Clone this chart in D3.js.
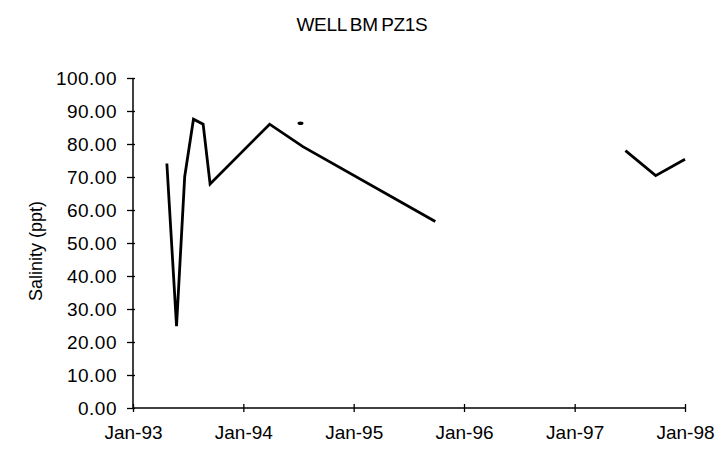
<!DOCTYPE html>
<html>
<head>
<meta charset="utf-8">
<script src="https://cdn.jsdelivr.net/npm/d3@7"></script>
<style>
  body { margin: 0; background: #fff; }
  text { font-family: "Liberation Sans", Arial, sans-serif; fill: #000; }
</style>
</head>
<body>
<svg id="chart" width="724" height="452"></svg>
<script>
// ---- data ----
const title = "WELL BM PZ1S";
const yTitle = "Salinity (ppt)";
const seriesDates = ["1993-04-23","1993-05-25","1993-06-21","1993-07-20","1993-08-21","1993-09-13","1994-03-29","1994-07-17","1995-09-28",null,"1997-06-18","1997-09-26","1998-01-01"];
const seriesValues = [74.1, 24.8, 70.1, 87.5, 86.0, 67.9, 86.0, 79.2, 56.5, null, 78.0, 70.4, 75.4];
const dotDates = ["1994-07-09"];
const dotValues = [86.3];
const xTickDates = ["1993-01-01","1994-01-01","1995-01-01","1996-01-01","1997-01-01","1998-01-01"];
const yTickValues = [0,10,20,30,40,50,60,70,80,90,100];

// ---- layout ----
const svg = d3.select("#chart");
const W = 724, H = 452;
const m = {left: 133, right: 39, top: 78, bottom: 44};
const parse = d3.timeParse("%Y-%m-%d");

const x = d3.scaleTime()
  .domain([parse(xTickDates[0]), parse(xTickDates[xTickDates.length-1])])
  .range([m.left, W - m.right]);
const y = d3.scaleLinear().domain([0, 100]).range([H - m.bottom, m.top]);

// title
svg.append("text")
  .attr("x", 362).attr("y", 31)
  .attr("text-anchor", "middle")
  .style("font-size", "19px")
  .style("word-spacing", "-1.5px")
  .style("letter-spacing", "-0.3px")
  .text(title);

// y axis title
svg.append("text")
  .attr("transform", `translate(36,${(y(0)+y(100))/2 + 8}) rotate(-90)`)
  .attr("text-anchor", "middle")
  .attr("dy", "0.35em")
  .style("font-size", "18px")
  .text(yTitle);

// y axis
const yAxis = svg.append("g")
  .attr("transform", `translate(${m.left},0)`)
  .call(d3.axisLeft(y).tickValues(yTickValues).tickFormat(d3.format(".2f")).tickSize(6).tickPadding(10));
yAxis.select(".domain").attr("stroke", "#000").attr("stroke-width", 1.5).attr("d", `M0,${y(0)}V${y(100)}`);
yAxis.selectAll(".tick line").attr("stroke", "#000").attr("stroke-width", 1.3).attr("x1", 2).attr("x2", -6);
yAxis.selectAll(".tick text").style("font-size", "19px").style("letter-spacing", "0.5px").attr("font-family", "Liberation Sans, Arial, sans-serif");

// x axis
const xAxis = svg.append("g")
  .attr("transform", `translate(0,${y(0)})`)
  .call(d3.axisBottom(x).tickValues(xTickDates.map(parse)).tickFormat(d3.timeFormat("%b-%y")).tickSize(4).tickPadding(14));
xAxis.select(".domain").attr("stroke", "#000").attr("stroke-width", 1.5).attr("d", `M${x.range()[0]},0H${x.range()[1]}`);
xAxis.selectAll(".tick line").attr("stroke", "#000").attr("stroke-width", 1.3).attr("y1", -4).attr("y2", 4);
xAxis.selectAll(".tick text").style("font-size", "19px").attr("font-family", "Liberation Sans, Arial, sans-serif");

// main series
const pts = seriesDates.map((d, i) => ({date: d ? parse(d) : null, value: seriesValues[i]}));
const line = d3.line()
  .defined(d => d.date !== null && d.value !== null)
  .x(d => x(d.date)).y(d => y(d.value));
svg.append("path")
  .datum(pts)
  .attr("fill", "none").attr("stroke", "#000")
  .attr("stroke-width", 2.8).attr("stroke-linejoin", "miter")
  .attr("d", line);

// isolated point
svg.selectAll(".dot")
  .data(dotDates.map((d, i) => ({date: parse(d), value: dotValues[i]})))
  .enter().append("ellipse")
  .attr("cx", d => x(d.date)).attr("cy", d => y(d.value))
  .attr("rx", 3).attr("ry", 1.8).attr("fill", "#000");
</script>
</body>
</html>
